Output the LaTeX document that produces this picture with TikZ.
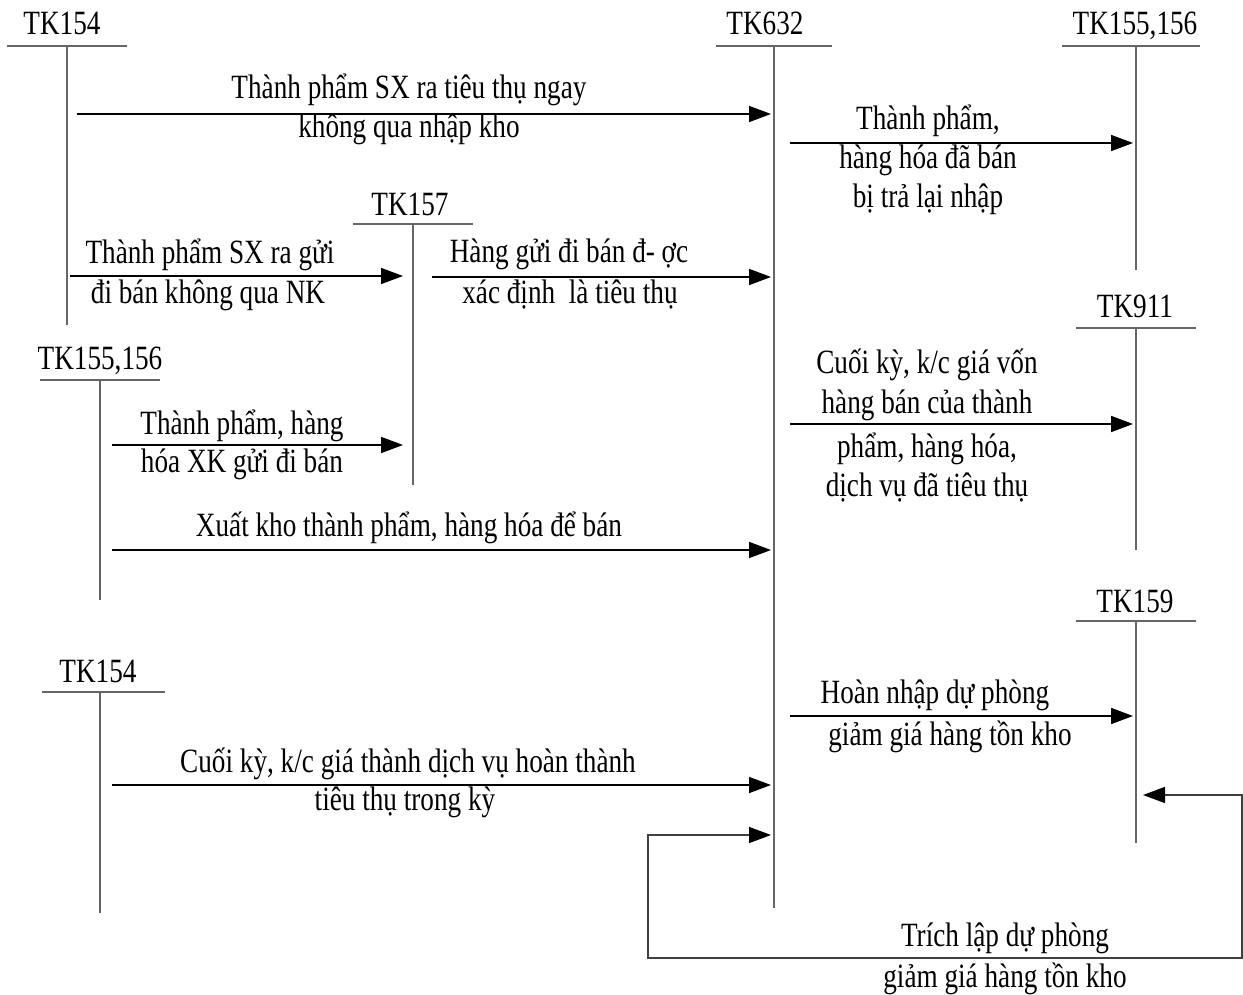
\documentclass[tikz,border=0pt]{standalone}
\usepackage{fontspec}
\setmainfont{Liberation Serif}[FakeStretch=0.8]
\usetikzlibrary{arrows.meta}

\begin{document}
\begin{tikzpicture}[x=1pt,y=-1pt,
  txt/.style={anchor=base, inner sep=0pt, font=\fontsize{34}{40}\selectfont},
  tline/.style={draw=black!60, line width=1.5pt},
  tip/.style={Triangle[length=22pt,width=16pt,color=black]},
  flow/.style={draw=black, line width=1.6pt, -{Triangle[length=22pt,width=16pt]}},
  loop/.style={draw=black!75, line width=1.5pt,
    {Triangle[length=22pt,width=16pt,color=black]}-{Triangle[length=22pt,width=16pt,color=black]}},
]
\useasboundingbox (0,0) rectangle (1243,995);

% ---- T-accounts: title, bar, vertical line ----
\node[txt] (tk154a) at (62,35) {TK154};
\draw[tline] (7,46) -- (127,46);
\coordinate (tk154a-t) at (67,46); \coordinate (tk154a-b) at (67,325);
\draw[tline] (tk154a-t) -- (tk154a-b);

\node[txt] (tk632) at (765,35) {TK632};
\draw[tline] (716,46) -- (832,46);
\coordinate (tk632-t) at (774,46); \coordinate (tk632-b) at (774,908);
\draw[tline] (tk632-t) -- (tk632-b);

\node[txt] (tk155a) at (1135,35) {TK155,156};
\draw[tline] (1062,46) -- (1200,46);
\coordinate (tk155a-t) at (1136,46); \coordinate (tk155a-b) at (1136,270);
\draw[tline] (tk155a-t) -- (tk155a-b);

\node[txt] (tk157) at (410,216) {TK157};
\draw[tline] (353,224) -- (473,224);
\coordinate (tk157-t) at (413,224); \coordinate (tk157-b) at (413,485);
\draw[tline] (tk157-t) -- (tk157-b);

\node[txt] (tk911) at (1135,317) {TK911};
\draw[tline] (1076,328) -- (1196,328);
\coordinate (tk911-t) at (1136,328); \coordinate (tk911-b) at (1136,550);
\draw[tline] (tk911-t) -- (tk911-b);

\node[txt] (tk155b) at (100,369) {TK155,156};
\draw[tline] (40,380) -- (160,380);
\coordinate (tk155b-t) at (100,380); \coordinate (tk155b-b) at (100,600);
\draw[tline] (tk155b-t) -- (tk155b-b);

\node[txt] (tk159) at (1135,612) {TK159};
\draw[tline] (1076,621) -- (1196,621);
\coordinate (tk159-t) at (1136,621); \coordinate (tk159-b) at (1136,843);
\draw[tline] (tk159-t) -- (tk159-b);

\node[txt] (tk154b) at (98,682) {TK154};
\draw[tline] (42,692) -- (165,692);
\coordinate (tk154b-t) at (100,692); \coordinate (tk154b-b) at (100,913);
\draw[tline] (tk154b-t) -- (tk154b-b);

% ---- flows ----
\coordinate (f1s) at (77,114);  \coordinate (f1e) at (771,114);
\draw[flow] (f1s) -- (f1e);
\node[txt] (f1a) at (409,99)  {Thành phẩm SX ra tiêu thụ ngay};
\node[txt] (f1b) at (409,138) {không qua nhập kho};

\coordinate (f2s) at (790,143); \coordinate (f2e) at (1133,143);
\draw[flow] (f2s) -- (f2e);
\node[txt] (f2a) at (928,130) {Thành phẩm,};
\node[txt] (f2b) at (928,169) {hàng hóa đã bán};
\node[txt] (f2c) at (928,208) {bị trả lại nhập};

\coordinate (f3s) at (70,276);  \coordinate (f3e) at (403,276);
\draw[flow] (f3s) -- (f3e);
\node[txt] (f3a) at (210,264) {Thành phẩm SX ra gửi};
\node[txt] (f3b) at (208,303) {đi bán không qua NK};

\coordinate (f4s) at (432,277); \coordinate (f4e) at (771,277);
\draw[flow] (f4s) -- (f4e);
\node[txt] (f4a) at (569,263) {Hàng gửi đi bán đ- ợc};
\node[txt] (f4b) at (570,304) {xác định\ \ là tiêu thụ};

\coordinate (f5s) at (112,445); \coordinate (f5e) at (403,445);
\draw[flow] (f5s) -- (f5e);
\node[txt] (f5a) at (242,434) {Thành phẩm, hàng};
\node[txt] (f5b) at (242,472) {hóa XK gửi đi bán};

\coordinate (f6s) at (790,424); \coordinate (f6e) at (1133,424);
\draw[flow] (f6s) -- (f6e);
\node[txt] (f6a) at (927,373) {Cuối kỳ, k/c giá vốn};
\node[txt] (f6b) at (927,413) {hàng bán của thành};
\node[txt] (f6c) at (927,457) {phẩm, hàng hóa,};
\node[txt] (f6d) at (927,496) {dịch vụ đã tiêu thụ};

\coordinate (f7s) at (112,550); \coordinate (f7e) at (771,550);
\draw[flow] (f7s) -- (f7e);
\node[txt] (f7a) at (409,536) {Xuất kho thành phẩm, hàng hóa để bán};

\coordinate (f8s) at (790,716); \coordinate (f8e) at (1133,716);
\draw[flow] (f8s) -- (f8e);
\node[txt] (f8a) at (935,703) {Hoàn nhập dự phòng};
\node[txt] (f8b) at (950,745) {giảm giá hàng tồn kho};

\coordinate (f9s) at (112,785); \coordinate (f9e) at (771,785);
\draw[flow] (f9s) -- (f9e);
\node[txt] (f9a) at (408,772) {Cuối kỳ, k/c giá thành dịch vụ hoàn thành};
\node[txt] (f9b) at (405,810) {tiêu thụ trong kỳ};

% provision loop between TK159 and TK632
\coordinate (f10s) at (1143,795); \coordinate (f10e) at (771,835);
\draw[loop] (f10s) -- (1242,795) -- (1242,958) -- (648,958) -- (648,835) -- (f10e);
\node[txt] (f10a) at (1005,946) {Trích lập dự phòng};
\node[txt] (f10b) at (1005,987) {giảm giá hàng tồn kho};
\end{tikzpicture}
\end{document}
